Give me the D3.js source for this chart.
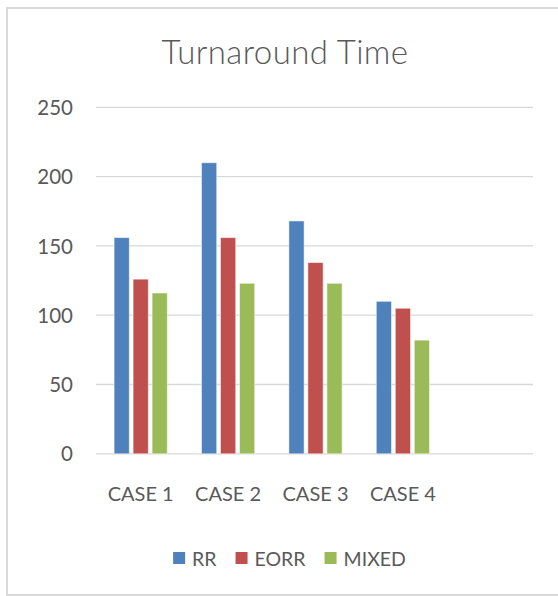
<!DOCTYPE html>
<html>
<head>
<meta charset="utf-8">
<script src="https://cdn.jsdelivr.net/npm/d3@7"></script>
<style>
  html, body { margin: 0; padding: 0; background: #fff; }
  svg { display: block; }
  text { font-family: Lato, "Open Sans", sans-serif; fill: #595959; }
</style>
</head>
<body>
<svg id="chart" width="558" height="596"></svg>
<script>
const title = "Turnaround Time";
const categories = ["CASE 1", "CASE 2", "CASE 3", "CASE 4", ""];
const seriesNames = ["RR", "EORR", "MIXED"];
const rr    = [156, 210, 168, 110, null];
const eorr  = [126, 156, 138, 105, null];
const mixed = [116, 123, 123, 82, null];
const yTicks = [0, 50, 100, 150, 200, 250];
const colors = ["#4f81bd", "#c0504d", "#9bbb59"];

const seriesValues = [rr, eorr, mixed];
const svg = d3.select("#chart");

// chart border
svg.append("rect")
  .attr("x", 7).attr("y", 8).attr("width", 560).attr("height", 587)
  .attr("fill", "none").attr("stroke", "#d9d9d9").attr("stroke-width", 2);

const plot = { left: 96, right: 533, top: 107.3, bottom: 453.8 };

const y = d3.scaleLinear().domain([0, 250]).range([plot.bottom, plot.top]);
const x0 = d3.scaleBand().domain(categories).range([plot.left, plot.right]).paddingInner(0).paddingOuter(0);
const x1 = d3.scaleBand().domain(seriesNames).range([1, x0.bandwidth() + 1]).paddingInner(0.2).paddingOuter(0.9);

// gridlines
svg.append("g").selectAll("line").data(yTicks).join("line")
  .attr("x1", plot.left).attr("x2", plot.right)
  .attr("y1", d => y(d)).attr("y2", d => y(d))
  .attr("stroke", "#d9d9d9").attr("stroke-width", 1.3);

// y axis labels
const yAxis = d3.axisLeft(y).tickValues(yTicks).tickSize(0).tickPadding(0);
const yg = svg.append("g").attr("transform", "translate(73,0)").call(yAxis);
yg.select(".domain").remove();
yg.selectAll("text").style("font-size", "20.5px").style("font-family", "Lato").attr("fill", "#595959").attr("dy", "0.35em");

// x axis labels
const xAxis = d3.axisBottom(x0).tickSize(0).tickPadding(0);
const xg = svg.append("g").attr("transform", "translate(1,0)").call(xAxis);
xg.select(".domain").remove();
xg.selectAll("text").style("font-size", "20px").style("font-family", "Lato").attr("fill", "#595959")
  .attr("y", 500.5).attr("dy", 0);

// bars
const groups = svg.append("g").selectAll("g").data(categories).join("g")
  .attr("transform", c => `translate(${x0(c)},0)`);
groups.selectAll("rect")
  .data((c, i) => seriesNames.map((s, j) => ({ s, v: seriesValues[j][i], j })).filter(d => d.v != null))
  .join("rect")
  .attr("x", d => x1(d.s))
  .attr("width", x1.bandwidth())
  .attr("y", d => y(d.v))
  .attr("height", d => y(0) - y(d.v))
  .attr("fill", d => colors[d.j])
  .attr("stroke", "#ffffff").attr("stroke-opacity", 0.5).attr("stroke-width", 1);

// title
svg.append("text")
  .attr("x", 285).attr("y", 63.5)
  .attr("text-anchor", "middle")
  .style("font-size", "33px")
  .style("font-weight", "300")
  .style("letter-spacing", "0.4px")
  .text(title);

// legend
const legend = svg.append("g");
const items = legend.selectAll("g").data(seriesNames).join("g");
items.append("rect").attr("width", 12).attr("height", 12).attr("y", 552)
  .attr("fill", (d, i) => colors[i]);
items.append("text").attr("y", 565.5).attr("x", 19).style("font-size", "19.5px").text(d => d);
const widths = [];
items.each(function(d) {
  const w = d3.select(this).select("text").node().getComputedTextLength();
  widths.push(19 + w);
});
const total = d3.sum(widths) + 19 * (widths.length - 1);
let start = 289.5 - total / 2;
items.attr("transform", (d, i) => {
  const t = `translate(${start},0)`;
  start += widths[i] + 19;
  return t;
});
</script>
</body>
</html>
